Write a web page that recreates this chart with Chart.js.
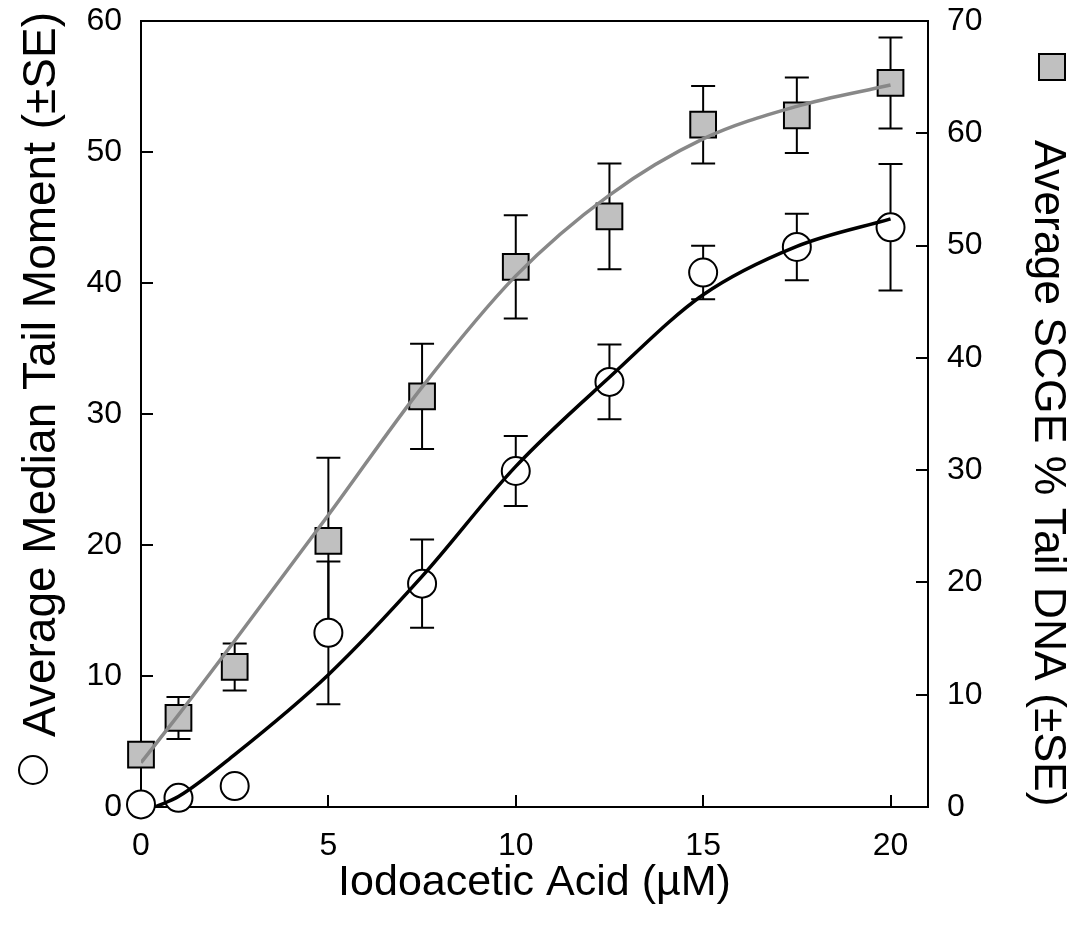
<!DOCTYPE html>
<html>
<head>
<meta charset="utf-8">
<title>Iodoacetic Acid comet assay</title>
<script src="https://cdn.jsdelivr.net/npm/chart.js@4.4.0/dist/chart.umd.min.js"></script>
<style>
  html, body { margin: 0; padding: 0; background: #fff; }
</style>
</head>
<body>
<canvas id="chart" width="1081" height="940"></canvas>
<script>
// doses (µM)
const dose = [0, 1, 2.5, 5, 7.5, 10, 12.5, 15, 17.5, 20];

// circles: average median tail moment (left axis)
const tailMoment = [0.2, 0.7, 1.6, 13.3, 17.05, 25.65, 32.45, 40.8, 42.75, 44.25];
const tailMomentSE = [3.4, 0.5, 0.5, 5.45, 3.37, 2.68, 2.86, 2.04, 2.54, 4.83];

// squares: SCGE % tail DNA (right axis)
const tailDNA = [4.67, 7.93, 12.47, 23.7, 36.57, 48.1, 52.6, 60.77, 61.6, 64.48];
const tailDNASE = [1.0, 1.87, 2.1, 7.4, 4.68, 4.6, 4.7, 3.45, 3.36, 4.05];

// fitted curves
const momentFitX = [0.37, 1, 2.5, 5, 7.5, 10, 12.5, 15, 17.5, 20];
const momentFitY = [0, 0.8, 4.0, 10.1, 17.6, 26.0, 32.8, 39.1, 42.8, 44.9];
const dnaFitX = [0, 1, 2.5, 5, 7.5, 10, 12.5, 15, 17.5, 20];
const dnaFitY = [3.95, 8.2, 14.8, 26.0, 37.4, 47.3, 54.5, 59.5, 62.4, 64.3];

const xTicks = [0, 5, 10, 15, 20];

const pts = (xs, ys) => xs.map((x, i) => ({ x: x, y: ys[i] }));

Chart.defaults.font.family = '"Liberation Sans", Arial, sans-serif';
Chart.defaults.color = '#000';

const FONT = '"Liberation Sans", Arial, sans-serif';

// box around the plot area
const framePlugin = {
  id: 'frame',
  beforeDatasetsDraw(chart) {
    const { ctx, chartArea: a } = chart;
    ctx.save();
    ctx.strokeStyle = '#000';
    ctx.lineWidth = 2;
    ctx.strokeRect(a.left, a.top, a.right - a.left, a.bottom - a.top);
    ctx.restore();
  }
};

// vertical SE bars with caps
const errorBarPlugin = {
  id: 'errorBars',
  beforeDatasetsDraw(chart) {
    const { ctx, chartArea: a, scales } = chart;
    const cap = 12;
    const drawSet = (vals, errs, yScale) => {
      dose.forEach((d, i) => {
        const px = scales.x.getPixelForValue(d);
        const top = yScale.getPixelForValue(vals[i] + errs[i]);
        const bot = yScale.getPixelForValue(vals[i] - errs[i]);
        ctx.beginPath();
        ctx.moveTo(px, top); ctx.lineTo(px, bot);
        ctx.moveTo(px - cap, top); ctx.lineTo(px + cap, top);
        ctx.moveTo(px - cap, bot); ctx.lineTo(px + cap, bot);
        ctx.stroke();
      });
    };
    ctx.save();
    ctx.beginPath();
    ctx.rect(a.left, a.top, a.right - a.left, a.bottom - a.top);
    ctx.clip();
    ctx.strokeStyle = '#000';
    ctx.lineWidth = 2;
    drawSet(tailMoment, tailMomentSE, scales.y);
    drawSet(tailDNA, tailDNASE, scales.y2);
    ctx.restore();
  }
};

// y axis titles with their symbols
const titlesPlugin = {
  id: 'yTitles',
  afterDraw(chart) {
    const { ctx } = chart;
    ctx.save();
    ctx.fillStyle = '#000';
    ctx.textBaseline = 'middle';

    ctx.save();
    ctx.font = '46px ' + FONT;
    ctx.translate(42, 12);
    ctx.rotate(-Math.PI / 2);
    ctx.textAlign = 'right';
    ctx.fillText('Average Median Tail Moment (\u00b1SE)', 0, 0);
    ctx.restore();

    ctx.save();
    ctx.font = '44.5px ' + FONT;
    ctx.translate(1047, 140);
    ctx.rotate(Math.PI / 2);
    ctx.textAlign = 'left';
    ctx.fillText('Average SCGE % Tail DNA (\u00b1SE)', 0, 0);
    ctx.restore();

    ctx.lineWidth = 2;
    ctx.strokeStyle = '#000';
    ctx.beginPath();
    ctx.arc(33, 770, 14, 0, Math.PI * 2);
    ctx.fillStyle = '#fff';
    ctx.fill();
    ctx.stroke();

    ctx.fillStyle = '#c0c0c0';
    ctx.fillRect(1039, 54, 26, 26);
    ctx.strokeRect(1039, 54, 26, 26);
    ctx.restore();
  }
};

const noEdgePadding = (scale) => {
  scale.paddingTop = 0;
  scale.paddingBottom = 0;
  scale.paddingLeft = 0;
  scale.paddingRight = 0;
};

new Chart(document.getElementById('chart'), {
  type: 'scatter',
  data: {
    datasets: [
      {
        label: 'Tail moment fit',
        type: 'line',
        data: pts(momentFitX, momentFitY),
        yAxisID: 'y',
        borderColor: '#000',
        borderWidth: 3.5,
        pointRadius: 0,
        cubicInterpolationMode: 'monotone',
        fill: false,
        order: 0
      },
      {
        label: 'Tail DNA fit',
        type: 'line',
        data: pts(dnaFitX, dnaFitY),
        yAxisID: 'y2',
        borderColor: '#888888',
        borderWidth: 3.5,
        pointRadius: 0,
        cubicInterpolationMode: 'monotone',
        fill: false,
        order: 0
      },
      {
        label: 'Tail moment',
        data: pts(dose, tailMoment),
        yAxisID: 'y',
        pointStyle: 'circle',
        pointRadius: 14,
        pointBackgroundColor: '#fff',
        pointBorderColor: '#000',
        pointBorderWidth: 2,
        clip: false,
        order: 2
      },
      {
        label: '% tail DNA',
        data: pts(dose, tailDNA),
        yAxisID: 'y2',
        pointStyle: 'rect',
        pointRadius: 18.2,
        pointBackgroundColor: '#c0c0c0',
        pointBorderColor: '#000',
        pointBorderWidth: 2,
        clip: false,
        order: 1
      }
    ]
  },
  options: {
    responsive: false,
    animation: false,
    devicePixelRatio: 1,
    layout: { padding: { top: 21, left: 0, right: 0, bottom: 0 } },
    plugins: {
      legend: { display: false },
      tooltip: { enabled: false }
    },
    scales: {
      x: {
        type: 'linear',
        min: 0,
        max: 21,
        afterBuildTicks(scale) {
          scale.ticks = xTicks.map(v => ({ value: v }));
        },
        afterFit(scale) { scale.height = 133; noEdgePadding(scale); },
        grid: { drawOnChartArea: false, tickLength: -12, color: '#000', lineWidth: 2 },
        border: { display: false },
        ticks: { font: { size: 32 }, padding: 32, maxRotation: 0 },
        title: {
          display: true,
          text: 'Iodoacetic Acid (\u00b5M)',
          font: { size: 43 },
          padding: { top: 0, bottom: 31 }
        }
      },
      y: {
        position: 'left',
        min: 0,
        max: 60,
        afterFit(scale) { scale.width = 141; noEdgePadding(scale); },
        grid: { drawOnChartArea: false, tickLength: -12, color: '#000', lineWidth: 2 },
        border: { display: false },
        ticks: { stepSize: 10, font: { size: 32 }, padding: 31 }
      },
      y2: {
        position: 'right',
        min: 0,
        max: 70,
        afterFit(scale) { scale.width = 153; noEdgePadding(scale); },
        grid: { drawOnChartArea: false, tickLength: -12, color: '#000', lineWidth: 2 },
        border: { display: false },
        ticks: { stepSize: 10, font: { size: 32 }, padding: 31 }
      }
    }
  },
  plugins: [framePlugin, errorBarPlugin, titlesPlugin]
});
</script>
</body>
</html>
